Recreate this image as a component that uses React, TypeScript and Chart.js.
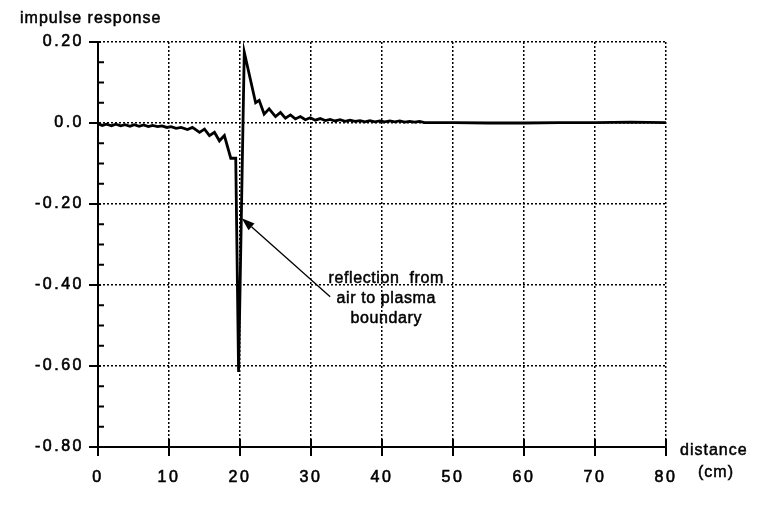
import React, { useEffect, useRef } from 'react';
import { Chart, registerables } from 'chart.js';

Chart.register(...registerables);

// ---- data ----
const distanceCm = [
  0, 0.6, 1.2, 1.9, 2.5, 3.2, 3.8, 4.5, 5.1, 5.8, 6.4, 7.1, 7.7, 8.4, 9.0, 9.7,
  10.3, 11.0, 11.7, 12.6, 13.3, 14.3, 15.0, 15.7, 16.4, 17.1, 17.8, 18.7, 19.4,
  19.8, 20.6, 22.2, 22.7, 23.4, 24.1, 25.0, 25.7, 26.4, 27.1, 27.8, 28.5, 29.2,
  29.9, 30.6, 31.3, 32.0, 32.7, 33.4, 34.1, 34.8, 35.5, 36.2, 36.9, 37.6, 38.3,
  39.0, 39.7, 40.4, 41.1, 41.8, 42.5, 43.2, 43.9, 44.6, 45.3, 46.0, 50, 55, 60,
  65, 70, 75, 80,
];
const impulseResponse = [
  -0.002, -0.006, -0.003, -0.007, -0.003, -0.007, -0.004, -0.008, -0.004, -0.008,
  -0.005, -0.009, -0.006, -0.009, -0.007, -0.011, -0.009, -0.013, -0.011, -0.016,
  -0.011, -0.023, -0.015, -0.031, -0.023, -0.044, -0.031, -0.087, -0.087, -0.615,
  0.175, 0.05, 0.056, 0.022, 0.035, 0.016, 0.026, 0.012, 0.02, 0.01, 0.016, 0.008,
  0.013, 0.007, 0.011, 0.006, 0.009, 0.005, 0.008, 0.004, 0.007, 0.004, 0.006,
  0.003, 0.006, 0.003, 0.005, 0.003, 0.005, 0.003, 0.005, 0.002, 0.004, 0.002,
  0.004, 0.001, 0.001, 0.0, 0.0, 0.001, 0.001, 0.002, 0.001,
];

const xTickValues = [0, 10, 20, 30, 40, 50, 60, 70, 80];
const xTickLabels = ['0', '10', '20', '30', '40', '50', '60', '70', '80'];
const yTickValues = [-0.8, -0.6, -0.4, -0.2, 0, 0.2];
const yTickLabels = ['-0.80', '-0.60', '-0.40', '-0.20', '0.0', '0.20'];
const yMinorStep = 0.05;

const yAxisTitle = 'impulse response';
const xAxisTitle = ['distance', '(cm)'];

const noteLines = ['reflection  from', 'air to plasma', 'boundary'];
const noteTextAnchor = { x: 40.6, y: -0.394 };
const noteArrowTail = { x: 32.7, y: -0.429 };
const noteArrowTip = { x: 20.25, y: -0.235 };

const FONT_FAMILY = '"Liberation Sans", Arial, Helvetica, sans-serif';

function boldText(ctx: CanvasRenderingContext2D, t: string, x: number, y: number) {
  ctx.fillText(t, x, y);
  ctx.strokeText(t, x, y);
}

const decorPlugin = {
  id: 'decor',
  beforeDraw(chart: any) {
    (chart.ctx as any).letterSpacing = '2.5px';
  },
  afterDraw(chart: any) {
    const { ctx, chartArea: a } = chart;
    const xs = chart.scales.x;
    const ys = chart.scales.y;
    ctx.save();
    ctx.setLineDash([]);
    ctx.strokeStyle = '#000';
    ctx.fillStyle = '#000';
    ctx.lineWidth = 2;

    // tick marks
    ctx.beginPath();
    yTickValues.forEach((v) => {
      const py = ys.getPixelForValue(v);
      ctx.moveTo(a.left - 9, py);
      ctx.lineTo(a.left + 3, py);
    });
    for (let k = 0; k <= 20; k++) {
      if (k % 4 === 0) continue;
      const py = ys.getPixelForValue(yTickValues[0] + k * yMinorStep);
      ctx.moveTo(a.left, py);
      ctx.lineTo(a.left + 6, py);
    }
    xTickValues.forEach((v) => {
      const px = xs.getPixelForValue(v);
      ctx.moveTo(px, a.bottom - 8);
      ctx.lineTo(px, a.bottom + 9);
    });
    ctx.stroke();

    // texts
    ctx.lineWidth = 0.5;
    (ctx as any).letterSpacing = '1px';
    ctx.font = `16px ${FONT_FAMILY}`;
    ctx.textBaseline = 'alphabetic';
    ctx.textAlign = 'left';
    boldText(ctx, yAxisTitle, 20, 23);
    boldText(ctx, xAxisTitle[0], 680, 455);
    ctx.textAlign = 'center';
    boldText(ctx, xAxisTitle[1], 716, 477);

    (ctx as any).letterSpacing = '0.6px';
    const nx = xs.getPixelForValue(noteTextAnchor.x);
    const ny = ys.getPixelForValue(noteTextAnchor.y);
    noteLines.forEach((t, i) => boldText(ctx, t, nx, ny + i * 20));

    // arrow
    const tx = xs.getPixelForValue(noteArrowTail.x);
    const ty = ys.getPixelForValue(noteArrowTail.y);
    const hx = xs.getPixelForValue(noteArrowTip.x);
    const hy = ys.getPixelForValue(noteArrowTip.y);
    const ang = Math.atan2(hy - ty, hx - tx);
    const headLen = 13;
    const headHalf = 4.5;
    const bx = hx - headLen * Math.cos(ang);
    const by = hy - headLen * Math.sin(ang);
    ctx.lineWidth = 1.3;
    ctx.beginPath();
    ctx.moveTo(tx, ty);
    ctx.lineTo(bx, by);
    ctx.stroke();
    ctx.beginPath();
    ctx.moveTo(hx, hy);
    ctx.lineTo(bx + headHalf * Math.sin(ang), by - headHalf * Math.cos(ang));
    ctx.lineTo(bx - headHalf * Math.sin(ang), by + headHalf * Math.cos(ang));
    ctx.closePath();
    ctx.fill();

    ctx.restore();
    (ctx as any).letterSpacing = '0px';
  },
};

export default function App() {
  const canvasRef = useRef<HTMLCanvasElement | null>(null);

  useEffect(() => {
    const canvas = canvasRef.current;
    if (!canvas) return;
    const points = distanceCm.map((x, i) => ({ x, y: impulseResponse[i] }));
    const tickFont = { family: FONT_FAMILY, size: 16 };
    const chart = new Chart(canvas, {
      type: 'line',
      data: {
        datasets: [
          {
            data: points,
            borderColor: '#000',
            borderWidth: 2.8,
            pointRadius: 0,
            tension: 0,
            fill: false,
          },
        ],
      },
      options: {
        animation: false,
        responsive: false,
        devicePixelRatio: 1,
        events: [],
        layout: { padding: { top: 42, right: 96, left: 0, bottom: 0 } },
        plugins: {
          legend: { display: false },
          tooltip: { enabled: false },
          title: { display: false },
        },
        scales: {
          x: {
            type: 'linear',
            min: 0,
            max: 80,
            afterFit: (s: any) => {
              s.height = 72;
            },
            afterBuildTicks: (s: any) => {
              s.ticks = xTickValues.map((v) => ({ value: v }));
            },
            ticks: {
              callback: (_v: any, i: number) => xTickLabels[i],
              font: tickFont,
              color: '#000',
              textStrokeColor: '#000',
              textStrokeWidth: 0.6,
              padding: 21,
              maxRotation: 0,
              autoSkip: false,
            },
            grid: { color: '#000', lineWidth: 1.5, drawTicks: false },
            border: { display: true, color: '#000', width: 2, dash: [2, 2] },
          },
          y: {
            type: 'linear',
            min: -0.8,
            max: 0.2,
            afterFit: (s: any) => {
              s.width = 98;
            },
            afterBuildTicks: (s: any) => {
              s.ticks = yTickValues.map((v) => ({ value: v }));
            },
            ticks: {
              callback: (_v: any, i: number) => yTickLabels[i],
              font: tickFont,
              color: '#000',
              textStrokeColor: '#000',
              textStrokeWidth: 0.6,
              padding: 14,
              autoSkip: false,
            },
            grid: { color: '#000', lineWidth: 1.5, drawTicks: false },
            border: { display: true, color: '#000', width: 2, dash: [2, 2] },
          },
        },
      },
      plugins: [decorPlugin],
    } as any);
    return () => chart.destroy();
  }, []);

  return (
    <div style={{ position: 'fixed', left: 0, top: 0, width: 762, height: 519, background: '#fff' }}>
      <canvas ref={canvasRef} width={762} height={519} style={{ display: 'block' }} />
    </div>
  );
}
